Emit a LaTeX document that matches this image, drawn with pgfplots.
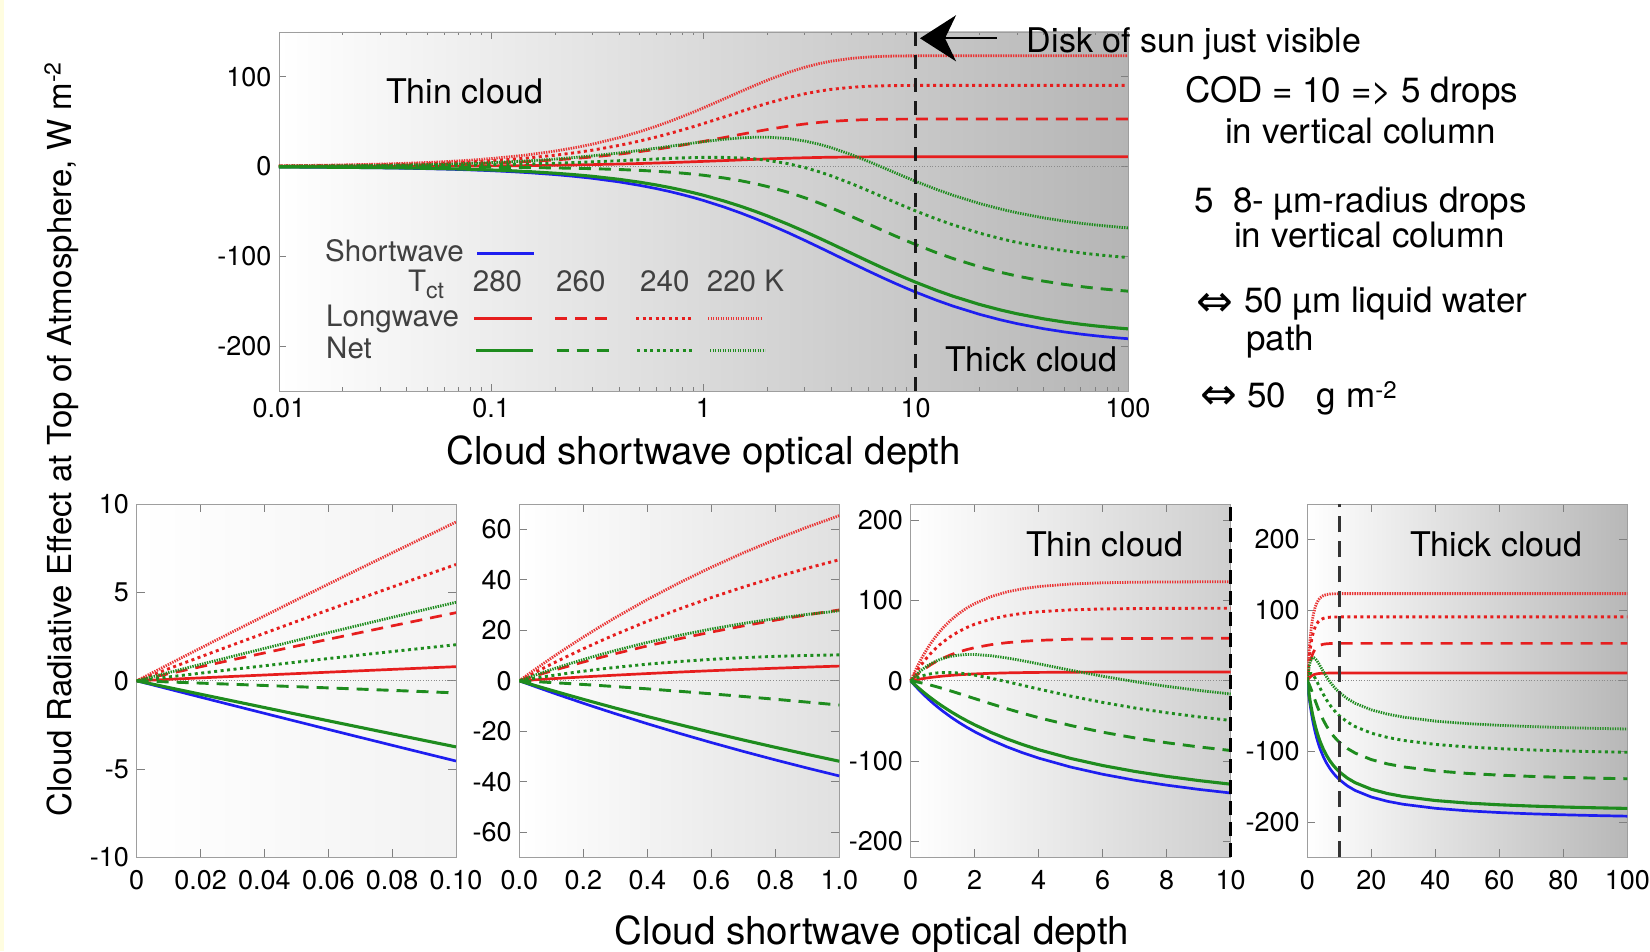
\documentclass[border=0pt]{standalone}
\usepackage{pgfplots}
\pgfplotsset{compat=1.18}
\usepackage{pgfplotstable}
\usepackage{fontspec}
\setmainfont{TeX Gyre Heros}
\newfontfamily\dejavu{DejaVu Sans}
\usetikzlibrary{arrows.meta}
\newcommand{\fs}[1]{\fontsize{#1}{#1}\selectfont}
\definecolor{cblue}{RGB}{30,30,240}
\definecolor{cred}{RGB}{230,30,30}
\definecolor{cgreen}{RGB}{30,140,30}
\definecolor{cyellow}{RGB}{255,253,224}
\definecolor{legtext}{RGB}{64,64,64}

\pgfplotstableread{
t sw l280 l260 l240 l220 n280 n260 n240 n220
0 0 0 0 0 0 0 0 0 0
0.01 -0.464 0.083 0.399 0.682 0.930 -0.381 -0.065 0.218 0.466
0.015 -0.695 0.124 0.598 1.021 1.393 -0.571 -0.098 0.325 0.697
0.02 -0.926 0.165 0.795 1.358 1.853 -0.761 -0.131 0.432 0.927
0.03 -1.386 0.247 1.189 2.030 2.770 -1.139 -0.197 0.644 1.384
0.04 -1.843 0.328 1.579 2.696 3.679 -1.516 -0.265 0.852 1.835
0.05 -2.299 0.408 1.966 3.357 4.581 -1.891 -0.333 1.058 2.282
0.06 -2.752 0.488 2.350 4.013 5.477 -2.265 -0.402 1.261 2.725
0.07 -3.204 0.567 2.732 4.665 6.366 -2.637 -0.472 1.461 3.162
0.08 -3.653 0.646 3.111 5.311 7.248 -3.007 -0.543 1.658 3.595
0.09 -4.100 0.724 3.486 5.953 8.124 -3.377 -0.614 1.853 4.024
0.1 -4.545 0.801 3.859 6.590 8.993 -3.745 -0.686 2.044 4.447
0.125 -5.650 0.992 4.779 8.161 11.136 -4.658 -0.871 2.511 5.487
0.15 -6.742 1.179 5.682 9.703 13.240 -5.562 -1.060 2.961 6.499
0.2 -8.889 1.544 7.437 12.699 17.330 -7.345 -1.452 3.810 8.441
0.25 -10.989 1.894 9.127 15.585 21.268 -9.095 -1.862 4.596 10.279
0.3 -13.043 2.232 10.754 18.363 25.058 -10.811 -2.289 5.320 12.015
0.4 -17.021 2.871 13.830 23.616 32.227 -14.151 -3.191 6.595 15.206
0.5 -20.833 3.463 16.683 28.487 38.874 -17.371 -4.150 7.654 18.041
0.6 -24.490 4.011 19.327 33.002 45.036 -20.479 -5.163 8.512 20.546
0.7 -28.000 4.520 21.779 37.188 50.749 -23.480 -6.221 9.188 22.749
0.8 -31.373 4.992 24.052 41.070 56.046 -26.381 -7.321 9.697 24.673
0.9 -34.615 5.429 26.160 44.669 60.957 -29.186 -8.455 10.054 26.342
1.0 -37.736 5.835 28.114 48.007 65.512 -31.901 -9.622 10.271 27.776
1.25 -45.045 6.725 32.400 55.325 75.498 -38.321 -12.645 10.280 30.453
1.5 -51.724 7.461 35.947 61.382 83.764 -44.263 -15.777 9.658 32.040
1.75 -57.851 8.070 38.885 66.397 90.608 -49.781 -18.967 8.546 32.757
2 -63.492 8.575 41.315 70.548 96.272 -54.917 -22.177 7.056 32.780
2.5 -73.529 9.338 44.993 76.828 104.843 -64.191 -28.536 3.299 31.314
3 -82.192 9.861 47.513 81.131 110.715 -72.331 -34.679 -1.061 28.523
3.5 -89.744 10.220 49.241 84.081 114.740 -79.524 -40.503 -5.663 24.996
4 -96.386 10.465 50.423 86.100 117.495 -85.921 -45.963 -10.286 21.109
5 -107.527 10.749 51.791 88.435 120.682 -96.778 -55.737 -19.092 13.155
6 -116.505 10.882 52.432 89.530 122.176 -105.623 -64.073 -26.975 5.671
7 -123.894 10.945 52.733 90.045 122.879 -112.949 -71.161 -33.849 -1.015
8 -130.081 10.974 52.875 90.286 123.209 -119.107 -77.206 -39.795 -6.873
9 -135.338 10.988 52.941 90.400 123.363 -124.350 -82.397 -44.939 -11.975
10 -139.860 10.994 52.972 90.453 123.436 -128.866 -86.888 -49.407 -16.424
12.5 -148.810 11 53 90.5 123.5 -137.810 -95.810 -58.310 -25.310
15 -155.440 11 53 90.5 123.5 -144.440 -102.440 -64.940 -31.940
20 -164.609 11 53 90.5 123.5 -153.609 -111.609 -74.109 -41.109
25 -170.648 11 53 90.5 123.5 -159.648 -117.648 -80.148 -47.148
30 -174.927 11 53 90.5 123.5 -163.927 -121.927 -84.427 -51.427
40 -180.587 11 53 90.5 123.5 -169.587 -127.587 -90.087 -57.087
50 -184.162 11 53 90.5 123.5 -173.162 -131.162 -93.662 -60.662
60 -186.625 11 53 90.5 123.5 -175.625 -133.625 -96.125 -63.125
70 -188.425 11 53 90.5 123.5 -177.425 -135.425 -97.925 -64.925
80 -189.798 11 53 90.5 123.5 -178.798 -136.798 -99.298 -66.298
90 -190.880 11 53 90.5 123.5 -179.880 -137.880 -100.380 -67.380
100 -191.755 11 53 90.5 123.5 -180.755 -138.755 -101.255 -68.255
}\data

\tikzset{
  sw/.style={cblue, line width=2.7pt, solid},
  l280/.style={cred, line width=2.7pt, solid},
  l260/.style={cred, line width=2.7pt, dash pattern=on 12pt off 8pt},
  l240/.style={cred, line width=2.9pt, dash pattern=on 3pt off 3.5pt},
  l220/.style={cred!90, line width=2.8pt, dash pattern=on 1.4pt off 1.1pt},
  n280/.style={cgreen, line width=3.1pt, solid},
  n260/.style={cgreen, line width=2.9pt, dash pattern=on 12pt off 8pt},
  n240/.style={cgreen, line width=2.9pt, dash pattern=on 3pt off 3.5pt},
  n220/.style={cgreen, line width=2.8pt, dash pattern=on 1.4pt off 1.1pt},
}

\pgfplotsset{
  panel/.style={
    scale only axis, anchor=south west,
    axis line style={draw=black!38, line width=0.8pt},
    tick style={draw=black!50, line width=0.9pt},
    tick align=inside,
    major tick length=8pt, minor tick length=4pt,
    tick label style={font=\fs{27}, inner sep=0pt},
    yticklabel style={xshift=-7.5pt},
    xticklabel style={yshift=-12.5pt},
  }
}

\newcommand{\curves}[1][]{%
  \addplot[sw,#1] table[x=t,y=sw]{\data};
  \addplot[l280,#1] table[x=t,y=l280]{\data};
  \addplot[l260,#1] table[x=t,y=l260]{\data};
  \addplot[l240,#1] table[x=t,y=l240]{\data};
  \addplot[l220,#1] table[x=t,y=l220]{\data};
  \addplot[n280,#1] table[x=t,y=n280]{\data};
  \addplot[n260,#1] table[x=t,y=n260]{\data};
  \addplot[n240,#1] table[x=t,y=n240]{\data};
  \addplot[n220,#1] table[x=t,y=n220]{\data};
}

\begin{document}
\begin{tikzpicture}
\useasboundingbox (0pt,0pt) rectangle (1650pt,951pt);
\fill[cyellow] (0pt,0pt) rectangle (3.5pt,951pt);

% ---------- top panel ----------
\begin{axis}[panel, at={(279pt,560pt)}, width=849pt, height=359pt,
  xmode=log, xmin=0.01, xmax=100, ymin=-250, ymax=150,
  xtick={0.01,0.1,1,10,100}, xticklabels={0.01,0.1,1,10,100},
  minor xtick={0.02,0.03,0.04,0.05,0.06,0.07,0.08,0.09,0.2,0.3,0.4,0.5,0.6,0.7,0.8,0.9,2,3,4,5,6,7,8,9,20,30,40,50,60,70,80,90},
  major tick length=7pt, minor tick length=3.5pt,
  ytick={-200,-100,0,100}, yticklabels={-200,-100,0,100},
  xticklabel style={yshift=5.5pt},
  axis background/.style={shade, left color=white, right color=black!29}]
  \draw[black!45, dotted, line width=0.7pt] (rel axis cs:0,0.625) -- (rel axis cs:1,0.625);
  \curves[skip coords between index={0}{1}]
  \addplot[black!90, line width=2.5pt, dash pattern=on 14pt off 9pt] coordinates {(10,-250) (10,150)};
\end{axis}

% ---------- bottom panels ----------
\begin{axis}[panel, at={(136.7pt,93.7pt)}, width=319.3pt, height=353pt,
  xmin=0, xmax=0.1, ymin=-10, ymax=10,
  xtick={0,0.02,0.04,0.06,0.08,0.1}, xticklabels={0,0.02,0.04,0.06,0.08,0.10},
  ytick={-10,-5,0,5,10}, yticklabels={-10,-5,0,5,10},
  axis background/.style={shade, left color=white, right color=black!5}]
  \draw[black!45, dotted, line width=0.7pt] (rel axis cs:0,0.5) -- (rel axis cs:1,0.5);
  \curves[skip coords between index={12}{60}]
\end{axis}

\begin{axis}[panel, at={(519.3pt,93.7pt)}, width=320pt, height=353pt,
  xmin=0, xmax=1, ymin=-70, ymax=70,
  xtick={0,0.2,0.4,0.6,0.8,1}, xticklabels={0.0,0.2,0.4,0.6,0.8,1.0},
  ytick={-60,-40,-20,0,20,40,60}, yticklabels={-60,-40,-20,0,20,40,60},
  axis background/.style={shade, left color=white, right color=black!12}]
  \draw[black!45, dotted, line width=0.7pt] (rel axis cs:0,0.5) -- (rel axis cs:1,0.5);
  \curves[skip coords between index={24}{60}]
\end{axis}

\begin{axis}[panel, at={(910.7pt,93.7pt)}, width=320pt, height=353pt, clip=false,
  xmin=0, xmax=10, ymin=-220, ymax=220,
  xtick={0,2,4,6,8,10}, xticklabels={0,2,4,6,8,10},
  ytick={-200,-100,0,100,200}, yticklabels={-200,-100,0,100,200},
  axis background/.style={shade, left color=white, right color=black!19}]
  \draw[black!45, dotted, line width=0.7pt] (rel axis cs:0,0.5) -- (rel axis cs:1,0.5);
  \curves[skip coords between index={38}{60}]
  \addplot[black, line width=2.5pt, dash pattern=on 14pt off 7pt] coordinates {(10,-220) (10,220)};
\end{axis}

\begin{axis}[panel, at={(1307.3pt,93.7pt)}, width=320pt, height=353pt,
  xmin=0, xmax=100, ymin=-250, ymax=250,
  xtick={0,20,40,60,80,100}, xticklabels={0,20,40,60,80,100},
  ytick={-200,-100,0,100,200}, yticklabels={-200,-100,0,100,200},
  axis background/.style={shade, left color=white, right color=black!28}]
  \draw[black!45, dotted, line width=0.7pt] (rel axis cs:0,0.5) -- (rel axis cs:1,0.5);
  \curves
  \addplot[black!80, line width=2.5pt, dash pattern=on 16pt off 9pt] coordinates {(10,-250) (10,250)};
\end{axis}

% ---------- texts in top panel ----------
\node[anchor=base west, font=\fs{34}, inner sep=0pt] at (386pt,847.7pt) {Thin cloud};
\node[anchor=base west, font=\fs{34}, inner sep=0pt] at (945pt,579.3pt) {Thick cloud};

% legend
\begin{scope}[every node/.style={anchor=base west, font=\fs{29.5}, text=legtext, inner sep=0pt}]
\node at (325pt,689.3pt) {Shortwave};
\draw[sw] (477pt,697.7pt) -- (534pt,697.7pt);
\node at (408pt,659.3pt) {T\raisebox{-7pt}{\fs{23}ct}};
\node at (472.7pt,659.3pt) {280};
\node at (556pt,659.3pt) {260};
\node at (640pt,659.3pt) {240};
\node at (706.7pt,659.3pt) {220 K};
\node at (326pt,624.3pt) {Longwave};
\draw[l280] (474pt,632.7pt) -- (531.7pt,632.7pt);
\draw[l260] (555pt,632.7pt) -- (611.7pt,632.7pt);
\draw[l240] (636pt,632.7pt) -- (692.7pt,632.7pt);
\draw[l220] (708pt,632.7pt) -- (762.7pt,632.7pt);
\node at (326pt,592.7pt) {Net};
\draw[n280] (476pt,600.3pt) -- (532.7pt,600.3pt);
\draw[n260] (556.7pt,600.3pt) -- (613pt,600.3pt);
\draw[n240] (637pt,600.3pt) -- (694pt,600.3pt);
\draw[n220] (710pt,600.3pt) -- (765pt,600.3pt);
\end{scope}

% arrow and right-side notes
\draw[line width=2pt, -{Stealth[length=36pt,width=46pt,inset=11pt]}] (996.7pt,912.7pt) -- (920pt,912.7pt);
\node[anchor=base west, font=\fs{34}, inner sep=0pt] at (1026.7pt,898.7pt) {Disk of sun just visible};
\begin{scope}[every node/.style={anchor=base west, font=\fs{35}, inner sep=0pt}]
\node at (1185pt,848.3pt) {COD = 10 => 5 drops};
\node at (1225pt,807pt) {in vertical column};
\node at (1194pt,738.3pt) {5\ \ 8- µm-radius drops};
\node at (1234pt,703.3pt) {in vertical column};
\node at (1196pt,638pt) {{\dejavu\fs{44}\raisebox{-4pt}{⇔}}\hspace{11pt}50 µm liquid water};
\node at (1246pt,600pt) {path};
\node at (1200pt,543pt) {{\dejavu\fs{44}\raisebox{-2pt}{⇔}}\hspace{10pt}50\hspace{31pt}g m\raisebox{9pt}{\fs{24}-2}};
\end{scope}

% bottom panel labels
\node[anchor=base west, font=\fs{34}, inner sep=0pt] at (1026pt,394.3pt) {Thin cloud};
\node[anchor=base west, font=\fs{34}, inner sep=0pt] at (1410pt,394.3pt) {Thick cloud};

% axis titles
\node[anchor=base, font=\fs{38.5}, inner sep=0pt] at (703.5pt,486pt) {Cloud shortwave optical depth};
\node[anchor=base, font=\fs{38.5}, inner sep=0pt] at (872pt,6pt) {Cloud shortwave optical depth};
\node[rotate=90, anchor=base, font=\fs{33}, inner sep=0pt] at (71.7pt,511.5pt) {Cloud Radiative Effect at Top of Atmosphere, W m\raisebox{11pt}{\fs{23}-2}};
\end{tikzpicture}
\end{document}
